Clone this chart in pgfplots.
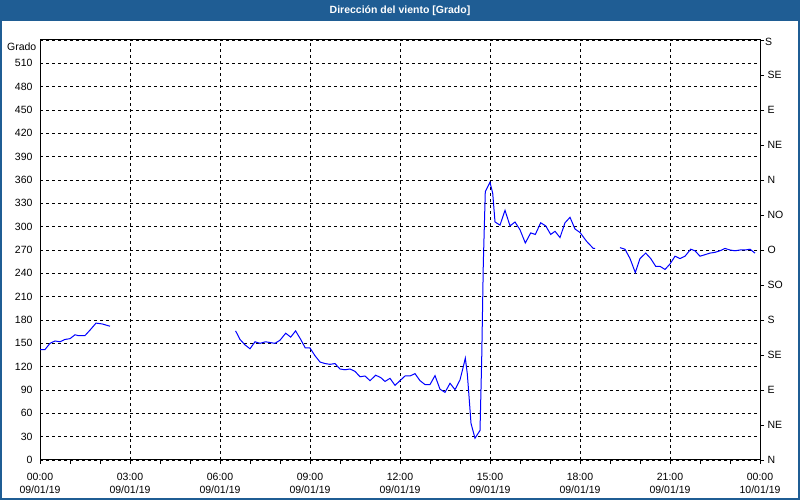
\documentclass[border=0pt]{standalone}
\usepackage{fontspec}
\setmainfont{Liberation Sans}
\usepackage{pgfplots}
\pgfplotsset{compat=1.18}
\definecolor{titlebar}{RGB}{31,93,148}
\definecolor{dataline}{RGB}{0,0,255}
\begin{document}
\begin{tikzpicture}[x=1pt,y=1pt]
\path[use as bounding box, fill=white] (0,0) rectangle (800,500);
\fill[titlebar] (0,479) rectangle (800,500);
\node[text=white, font=\fontsize{10.5}{12}\selectfont\bfseries] at (400,489.5) {Dirección del viento [Grado]};
\begin{axis}[
  at={(40pt,40pt)}, anchor=south west, scale only axis,
  width=720pt, height=420pt,
  xmin=0, xmax=24, ymin=0, ymax=540,
  axis line style={line width=1pt},
  xtick={0,3,...,24},
  minor xtick={0,1,...,24},
  xticklabels={{00:00\\09/01/19},{03:00\\09/01/19},{06:00\\09/01/19},{09:00\\09/01/19},{12:00\\09/01/19},{15:00\\09/01/19},{18:00\\09/01/19},{21:00\\09/01/19},{00:00\\10/01/19}},
  xticklabel style={align=center, font=\fontsize{10.5}{13}\selectfont, yshift=-6pt},
  xtick pos=left, tick align=outside,
  major tick length=4pt, minor tick length=4pt,
  xtick style={black, line width=0.8pt},
  minor x tick style={black, line width=0.8pt},
  ytick={0,30,...,540},
  yticklabels={0,30,60,90,120,150,180,210,240,270,300,330,360,390,420,450,480,510,{}},
  yticklabel style={font=\fontsize{10.5}{12}\selectfont},
  ytick style={draw=none},
  xmajorgrids, ymajorgrids,
  major grid style={black, line width=0.8pt, dash pattern=on 3pt off 3pt},
]
\addplot[dataline, line width=1pt] coordinates {
(0.000,142) (0.167,142) (0.333,150) (0.500,153) (0.667,152) (0.833,155) (1.000,156) (1.167,161) (1.267,160) (1.500,160) (1.667,167) (1.867,176) (2.067,175) (2.333,172)
};
\addplot[dataline, line width=1pt] coordinates {
(6.52,166) (6.667,155) (6.833,148) (7.0,143) (7.167,152) (7.333,150) (7.52,152) (7.667,151) (7.833,150) (8.0,154) (8.19,163) (8.357,158) (8.52,166) (8.69,155) (8.843,144) (9.0,144) (9.167,134) (9.333,126) (9.5,124) (9.667,123) (9.833,124) (10.0,117) (10.167,116) (10.333,117) (10.5,114) (10.667,107) (10.833,108) (11.0,102) (11.19,109) (11.357,106) (11.5,101) (11.667,105) (11.833,96) (12.0,102) (12.167,108) (12.333,108) (12.5,111) (12.667,102) (12.833,97) (13.0,97) (13.167,108.5) (13.333,91) (13.5,87) (13.667,98.6) (13.833,90.5) (14.0,103) (14.11,120) (14.177,131) (14.243,111) (14.31,77) (14.367,47) (14.5,28) (14.667,38) (14.723,129) (14.777,253) (14.843,345) (15.0,357) (15.09,343) (15.167,306) (15.333,302) (15.5,321) (15.667,301) (15.833,306) (16.0,296) (16.177,279) (16.357,292) (16.51,290) (16.69,305) (16.857,301) (17.023,290) (17.167,294) (17.333,286) (17.5,305) (17.667,312) (17.833,297) (18.0,292.5) (18.223,281) (18.443,272) (18.5,272)
};
\addplot[dataline, line width=1pt] coordinates {
(19.333,273) (19.5,271) (19.667,259) (19.843,241) (20.0,259) (20.19,266) (20.357,259) (20.523,249) (20.667,249) (20.833,245) (21.0,252) (21.167,262) (21.333,259) (21.5,262) (21.69,271) (21.833,269) (22.0,262) (22.167,264) (22.333,266) (22.5,267) (22.667,269) (22.833,272) (23.0,270) (23.167,269) (23.333,270) (23.5,270) (23.667,271) (23.833,266)
};
\end{axis}
\begin{axis}[
  at={(40pt,40pt)}, anchor=south west, scale only axis,
  width=720pt, height=420pt,
  xmin=0, xmax=24, ymin=0, ymax=540,
  axis x line=none, axis y line*=right,
  axis line style={line width=1pt, -},
  ytick={0,45,...,540},
  yticklabels={N,NE,E,SE,S,SO,O,NO,N,NE,E,SE,{}},
  yticklabel style={font=\fontsize{10.5}{12}\selectfont},
  tick align=outside, major tick length=4pt,
  ytick style={black, line width=0.8pt},
]
\addplot[draw=none] coordinates {(0,0)};
\end{axis}
\node[anchor=base east, inner sep=0pt, font=\fontsize{10.5}{12}\selectfont] at (36.5,449.5) {Grado};
\node[anchor=base west, inner sep=0pt, font=\fontsize{10.5}{12}\selectfont] at (765,454) {S};
\draw[titlebar, line width=2pt] (1,1) rectangle (799,499);
\end{tikzpicture}
\end{document}
